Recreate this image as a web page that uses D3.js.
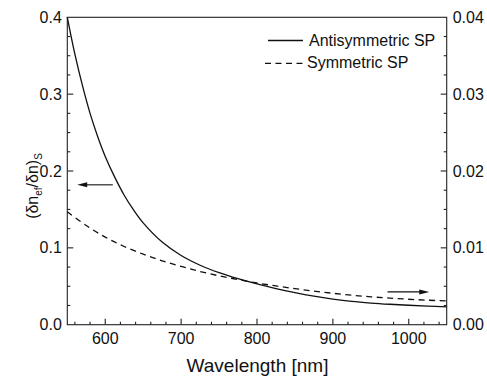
<!DOCTYPE html>
<html>
<head>
<meta charset="utf-8">
<script src="https://cdn.jsdelivr.net/npm/d3@7"></script>
<style>
  body { margin: 0; background: #fff; }
  text { font-family: "Liberation Sans", Arial, sans-serif; fill: #111; }
</style>
</head>
<body>
<svg id="chart" width="487" height="380"></svg>
<script>
// wavelength samples [nm]
var wl_anti = [550, 560, 570, 580, 590, 600, 612.5, 625, 637.5, 650, 675, 700, 725, 750, 775, 800, 825, 850, 875, 900, 925, 950, 975, 1000, 1025, 1050];
// antisymmetric SP, read on the left axis
var v_anti = [0.400, 0.352, 0.311, 0.275, 0.245, 0.219, 0.192, 0.1685, 0.149, 0.1325, 0.1075, 0.0900, 0.0774, 0.0677, 0.0598, 0.0530, 0.0470, 0.0417, 0.0371, 0.0333, 0.0303, 0.0282, 0.0266, 0.0253, 0.0242, 0.0233];

var wl_sym = [550, 575, 600, 625, 650, 675, 700, 725, 750, 775, 800, 825, 850, 875, 900, 925, 950, 975, 1000, 1025, 1050];
// symmetric SP, read on the right axis
var v_sym = [0.0147, 0.0129, 0.0114, 0.01018, 0.00918, 0.00832, 0.00758, 0.00692, 0.00636, 0.00587, 0.00543, 0.00504, 0.00469, 0.00437, 0.00409, 0.00384, 0.00363, 0.00346, 0.00331, 0.00319, 0.00309];

var xTicks = [600, 700, 800, 900, 1000];
var yTicksL = [0.0, 0.1, 0.2, 0.3, 0.4];
var yTicksR = [0.00, 0.01, 0.02, 0.03, 0.04];

var legendNames = ["Antisymmetric SP", "Symmetric SP"];

var svg = d3.select("#chart");
var L = 67.3, R = 446.7, T = 17.3, B = 324.7;

var x = d3.scaleLinear().domain([550, 1050]).range([L, R]);
var yL = d3.scaleLinear().domain([0, 0.4]).range([B, T]);
var yR = d3.scaleLinear().domain([0, 0.04]).range([B, T]);

// frame
svg.append("rect")
    .attr("x", L).attr("y", T)
    .attr("width", R - L).attr("height", B - T)
    .attr("fill", "none").attr("stroke", "#222").attr("stroke-width", 1.1);

var tickG = svg.append("g").attr("stroke", "#222").attr("stroke-width", 1.1);

// x ticks, inward
d3.range(560, 1050, 20).forEach(function(v){
    var major = (v % 100 === 0);
    tickG.append("line")
	.attr("x1", x(v)).attr("x2", x(v))
	.attr("y1", B).attr("y2", B - (major ? 6 : 3));
});
// left y ticks
d3.range(0.025, 0.4, 0.025).forEach(function(v){
    var major = Math.abs(v * 10 - Math.round(v * 10)) < 1e-6;
    tickG.append("line")
	.attr("x1", L).attr("x2", L + (major ? 6 : 3))
	.attr("y1", yL(v)).attr("y2", yL(v));
});
// right y ticks
d3.range(0.0025, 0.04, 0.0025).forEach(function(v){
    var major = Math.abs(v * 100 - Math.round(v * 100)) < 1e-6;
    tickG.append("line")
	.attr("x1", R).attr("x2", R - (major ? 6 : 3))
	.attr("y1", yR(v)).attr("y2", yR(v));
});

// tick labels
svg.append("g").selectAll("text").data(xTicks).join("text")
    .attr("x", function(d){ return x(d); })
    .attr("y", 344)
    .attr("text-anchor", "middle")
    .attr("font-size", 16)
    .text(function(d){ return d; });

svg.append("g").selectAll("text").data(yTicksL).join("text")
    .attr("x", L - 5.5)
    .attr("y", function(d){ return yL(d) + 5.5; })
    .attr("text-anchor", "end")
    .attr("font-size", 16)
    .text(function(d){ return d3.format(".1f")(d); });

svg.append("g").selectAll("text").data(yTicksR).join("text")
    .attr("x", R + 6)
    .attr("y", function(d){ return yR(d) + 5.5; })
    .attr("text-anchor", "start")
    .attr("font-size", 16)
    .text(function(d){ return d3.format(".2f")(d); });

// axis titles
svg.append("text")
    .attr("x", (L + R) / 2 + 0.5).attr("y", 372)
    .attr("text-anchor", "middle")
    .attr("font-size", 19)
    .text("Wavelength [nm]");

var yt = svg.append("text")
    .attr("transform", "translate(38,186) rotate(-90)")
    .attr("text-anchor", "middle")
    .attr("font-size", 16);
yt.append("tspan").text("(\u03b4n");
yt.append("tspan").attr("font-size", 10).attr("dy", 3.5).text("ef");
yt.append("tspan").attr("dy", -3.5).text("/\u03b4n)");
yt.append("tspan").attr("font-size", 10).attr("dy", 3.5).text("S");

// curves
var lineAnti = d3.line()
    .x(function(d, i){ return x(wl_anti[i]); })
    .y(function(d){ return yL(d); })
    .curve(d3.curveCatmullRom.alpha(0.5));
var lineSym = d3.line()
    .x(function(d, i){ return x(wl_sym[i]); })
    .y(function(d){ return yR(d); })
    .curve(d3.curveCatmullRom.alpha(0.5));

svg.append("path").attr("d", lineAnti(v_anti))
    .attr("fill", "none").attr("stroke", "#111").attr("stroke-width", 1.3);
svg.append("path").attr("d", lineSym(v_sym))
    .attr("fill", "none").attr("stroke", "#111").attr("stroke-width", 1.3)
    .attr("stroke-dasharray", "6,4.5");

// arrows pointing to the axis each curve uses
function arrow(x1, x2, y){
    var dir = x2 > x1 ? 1 : -1;
    svg.append("line")
	.attr("x1", x1).attr("x2", x2 - dir * 6)
	.attr("y1", y).attr("y2", y)
	.attr("stroke", "#111").attr("stroke-width", 1.1);
    svg.append("path")
	.attr("d", "M" + x2 + "," + y + "L" + (x2 - dir * 10) + "," + (y - 2.5) +
	      "L" + (x2 - dir * 10) + "," + (y + 2.5) + "Z")
	.attr("fill", "#111");
}
arrow(x(610), x(563), yL(0.182));
arrow(x(972), x(1027), yR(0.00427));

// legend
var leg = svg.append("g");
leg.append("line").attr("x1", 268).attr("x2", 303).attr("y1", 40.5).attr("y2", 40.5)
    .attr("stroke", "#111").attr("stroke-width", 1.3);
leg.append("line").attr("x1", 265).attr("x2", 305).attr("y1", 63.3).attr("y2", 63.3)
    .attr("stroke", "#111").attr("stroke-width", 1.3).attr("stroke-dasharray", "6,4.5");
leg.append("text").attr("x", 309).attr("y", 46).attr("font-size", 16).text(legendNames[0]);
leg.append("text").attr("x", 307).attr("y", 68).attr("font-size", 16).text(legendNames[1]);
</script>
</body>
</html>
